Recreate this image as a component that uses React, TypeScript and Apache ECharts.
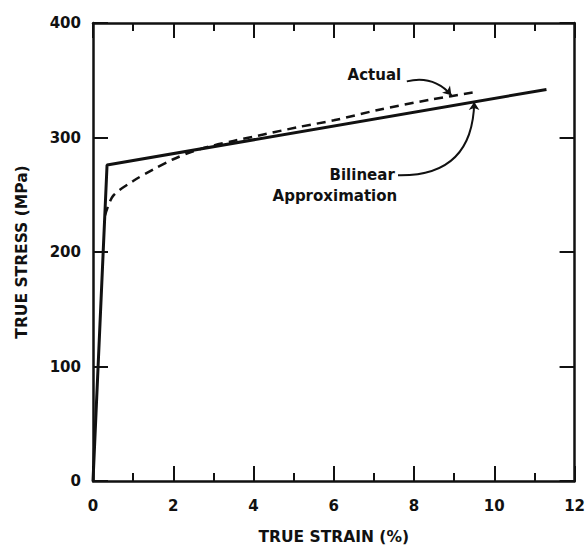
import React, { useEffect, useRef } from "react";
import * as echarts from "echarts";

// True strain (%) / true stress (MPa)
const bilinear: number[][] = [
  [0, 0],
  [0.35, 276],
  [11.3, 342],
];

const actual: number[][] = [
  [0.3, 232],
  [0.5, 249],
  [1.0, 262],
  [1.5, 272],
  [2.0, 281],
  [2.5, 288],
  [3.0, 293],
  [3.5, 297],
  [4.3, 303],
  [5.1, 309],
  [6.0, 315],
  [7.1, 324],
  [8.4, 333],
  [9.6, 340],
];

// annotation anchors (data coordinates)
const actualLabel = { text: "Actual", at: [7.68, 355] };
const bilinearLabels = [
  { text: "Bilinear", at: [7.52, 267] },
  { text: "Approximation", at: [7.58, 249] },
];
const actualArrow = [[7.82, 349], [8.93, 337]];
const bilinearArrow = [[7.6, 267], [9.5, 331]];

const xTicks = { min: 0, max: 12, interval: 2 };
const yTicks = { min: 0, max: 400, interval: 100 };

const INK = "#111";
const FONT = "DejaVu Sans";

export default function App() {
  const ref = useRef<HTMLDivElement>(null);
  useEffect(() => {
    if (!ref.current) return;
    const chart = echarts.init(ref.current, null, { renderer: "svg" });
    const axisLine = { show: true, onZero: false, lineStyle: { color: INK, width: 2.5 } };
    const tick = { show: true, inside: true, length: 15, lineStyle: { color: INK, width: 2 } };
    const minor = { show: true, splitNumber: 2, length: 8, lineStyle: { color: INK, width: 2 } };
    const labelStyle = { color: INK, fontFamily: FONT, fontWeight: "bold" as const, fontSize: 15 };
    const textPoint = (t: { text: string; at: number[] }) => ({
      value: t.at,
      label: { formatter: t.text },
    });
    chart.setOption({
      animation: false,
      backgroundColor: "#fff",
      grid: { left: 93, right: 12, top: 23, bottom: 65 },
      xAxis: [
        {
          type: "value",
          ...xTicks,
          position: "bottom",
          name: "TRUE STRAIN (%)",
          nameLocation: "middle",
          nameGap: 48,
          nameTextStyle: { ...labelStyle, fontSize: 15.5 },
          axisLine,
          axisTick: tick,
          minorTick: minor,
          splitLine: { show: false },
          axisLabel: { ...labelStyle, margin: 17 },
        },
        {
          type: "value",
          ...xTicks,
          position: "top",
          axisLine,
          axisTick: tick,
          minorTick: minor,
          splitLine: { show: false },
          axisLabel: { show: false },
        },
      ],
      yAxis: [
        {
          type: "value",
          ...yTicks,
          position: "left",
          name: "TRUE STRESS (MPa)",
          nameLocation: "middle",
          nameGap: 63,
          nameTextStyle: { ...labelStyle, fontSize: 15.5 },
          axisLine,
          axisTick: tick,
          splitLine: { show: false },
          axisLabel: { ...labelStyle, margin: 12 },
        },
        {
          type: "value",
          ...yTicks,
          position: "right",
          axisLine,
          axisTick: tick,
          splitLine: { show: false },
          axisLabel: { show: false },
        },
      ],
      series: [
        {
          name: "Bilinear Approximation",
          type: "line",
          data: bilinear,
          showSymbol: false,
          symbol: "none",
          lineStyle: { color: INK, width: 3 },
          z: 3,
        },
        {
          name: "Actual",
          type: "line",
          data: actual,
          smooth: 0.3,
          showSymbol: false,
          symbol: "none",
          lineStyle: { color: INK, width: 2.5, type: [9, 6] },
          z: 2,
        },
        {
          type: "lines",
          coordinateSystem: "cartesian2d",
          symbol: ["none", "arrow"],
          symbolSize: 8,
          lineStyle: { color: INK, width: 2, curveness: 0.3, opacity: 1 },
          data: [{ coords: actualArrow }],
          z: 4,
        },
        {
          type: "lines",
          coordinateSystem: "cartesian2d",
          symbol: ["none", "arrow"],
          symbolSize: 8,
          lineStyle: { color: INK, width: 2, curveness: -0.5, opacity: 1 },
          data: [{ coords: bilinearArrow }],
          z: 4,
        },
        {
          type: "scatter",
          symbolSize: 0,
          itemStyle: { color: INK, opacity: 1 },
          label: {
            show: true,
            position: "left",
            distance: 0,
            opacity: 1,
            ...labelStyle,
          },
          data: [textPoint(actualLabel), ...bilinearLabels.map(textPoint)],
          z: 5,
        },
      ],
    });
    return () => chart.dispose();
  }, []);
  return (
    <div
      ref={ref}
      style={{ position: "fixed", left: 0, top: 0, width: 588, height: 550, background: "#fff" }}
    />
  );
}
